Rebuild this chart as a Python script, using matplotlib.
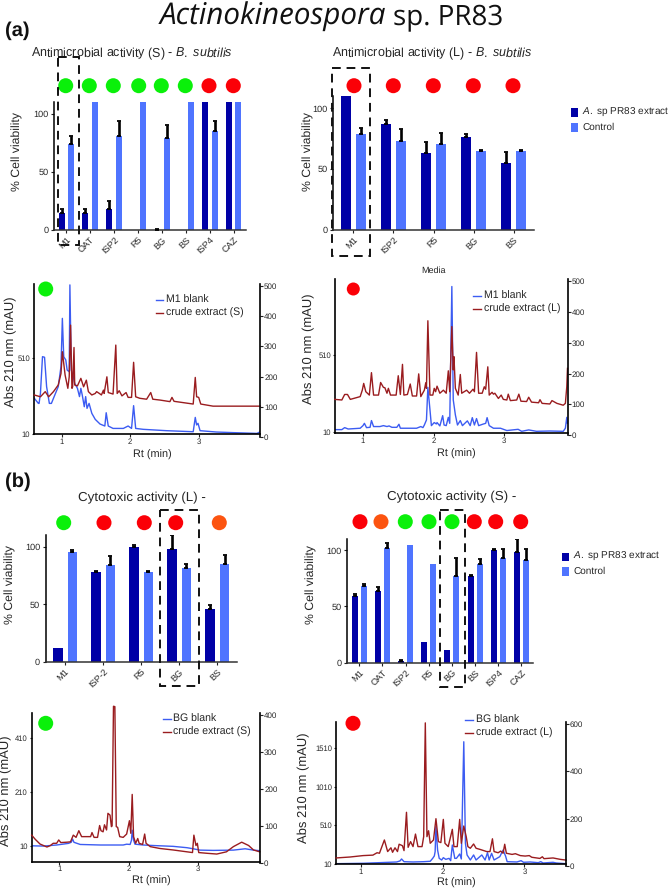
import matplotlib
matplotlib.use("Agg")
import matplotlib.pyplot as plt
from matplotlib.patches import Circle, Rectangle
from matplotlib.lines import Line2D
from matplotlib.transforms import Affine2D

W, H = 671, 889
DARK = "#0000a6"
LIGHT = "#4f74ff"
TRACE_BLUE = "#3c5cf2"
TRACE_RED = "#9a1c1f"
GREEN, RED, ORANGE = "#0af00a", "#fb0007", "#fc5410"
TXT = "#262626"

# bar data, panel (a)
cats_a1 = ["M1", "OAT", "ISP2", "R5", "BG", "BS", "ISP4", "CAZ"]
ext_a1 = [15, 15, 18, 0, 0, 0, 110, 110]
ext_err_a1 = [3, 3, 7, 0, 1, 0, 0, 0]
ctl_a1 = [74, 110, 81, 110, 79, 110, 85, 110]
ctl_err_a1 = [7, 0, 13, 0, 11, 0, 9, 0]
status_a1 = [GREEN, GREEN, GREEN, GREEN, GREEN, GREEN, RED, RED]

cats_a2 = ["M1", "ISP2", "R5", "BG", "BS"]
ext_a2 = [110, 87, 63, 76, 55]
ext_err_a2 = [0, 3, 9, 3, 9]
ctl_a2 = [79, 73, 71, 65, 65]
ctl_err_a2 = [5, 10, 9, 1, 1]
status_a2 = [RED, RED, RED, RED, RED]

# bar data, panel (b)
cats_b1 = ["M1", "ISP-2", "R5", "BG", "BS"]
ext_b1 = [12, 78, 100, 98, 46]
ext_err_b1 = [0, 1, 1, 12, 3]
ctl_b1 = [95, 84, 78, 81, 85]
ctl_err_b1 = [2, 8, 1, 4, 8]
status_b1 = [GREEN, RED, RED, RED, ORANGE]

cats_b2 = ["M1", "OAT", "ISP2", "R5", "BG", "BS", "ISP4", "CAZ"]
ext_b2 = [59, 64, 1.5, 18, 11, 77, 100, 98]
ext_err_b2 = [2, 3, 0.5, 0, 0, 1, 1, 12]
ctl_b2 = [68, 102, 105, 88, 77, 88, 93, 91]
ctl_err_b2 = [2, 4, 0, 0, 16, 4, 8, 10]
status_b2 = [RED, ORANGE, GREEN, GREEN, GREEN, RED, RED, RED]

# chromatograms
a1_blue_rt = [.60, .66, .67, .69, .72, .75, .78, .82, .85, .90, .95, .99, 1.01, 1.03, 1.06, 1.08, 1.11, 1.12, 1.14, 1.17, 1.19, 1.23, 1.26, 1.28, 1.30, 1.33, 1.35, 1.37, 1.40, 1.44, 1.49, 1.56, 1.63, 1.65, 1.68, 1.75, 1.90, 1.97, 2.02, 2.05, 2.08, 2.19, 2.53, 2.92, 2.95, 2.97, 2.99, 3.02, 3.26, 3.51, 3.85, 3.90]
a1_blue = [245, 211, 211, 278, 521, 517, 322, 211, 211, 267, 322, 455, 775, 521, 499, 432, 421, 997, 432, 388, 344, 311, 256, 311, 267, 189, 256, 178, 211, 145, 105, 74, 61, 149, 61, 45, 45, 61, 45, 196, 45, 39, 30, 23, 118, 68, 79, 30, 21, 17, 12, 23]
a1_red_rt = [.60, .69, .76, .81, .88, .95, .99, 1.01, 1.05, 1.09, 1.11, 1.13, 1.15, 1.16, 1.18, 1.19, 1.23, 1.28, 1.32, 1.36, 1.39, 1.44, 1.49, 1.51, 1.55, 1.58, 1.61, 1.62, 1.66, 1.68, 1.75, 1.79, 1.81, 1.84, 1.88, 1.94, 1.97, 2.02, 2.05, 2.08, 2.14, 2.24, 2.30, 2.33, 2.44, 2.58, 2.61, 2.64, 2.92, 2.95, 2.97, 3.00, 3.03, 3.21, 3.51, 3.90]
a1_red = [139, 133, 150, 133, 150, 172, 210, 282, 205, 161, 199, 370, 161, 166, 296, 172, 169, 194, 166, 188, 150, 139, 144, 150, 144, 139, 155, 144, 199, 147, 142, 304, 144, 153, 136, 147, 131, 131, 247, 133, 128, 125, 147, 125, 122, 117, 131, 118, 109, 197, 133, 131, 109, 102, 102, 102]

a2_blue_rt = [.60, .70, .74, .79, .96, 1.00, 1.02, 1.05, 1.10, 1.12, 1.15, 1.24, 1.29, 1.34, 1.37, 1.41, 1.48, 1.51, 1.53, 1.76, 1.82, 1.85, 1.87, 1.89, 1.90, 1.92, 1.95, 1.97, 2.01, 2.04, 2.05, 2.09, 2.13, 2.15, 2.18, 2.21, 2.23, 2.26, 2.28, 2.31, 2.34, 2.38, 2.41, 2.48, 2.52, 2.55, 2.58, 2.61, 2.64, 2.71, 2.74, 2.76, 2.79, 2.85, 2.95, 3.04, 3.20, 3.25, 3.35, 3.46, 3.65, 3.84, 3.87, 3.89, 3.90]
a2_blue = [23, 23, 36, 27, 32, 49, 64, 36, 38, 82, 43, 43, 49, 43, 47, 38, 38, 58, 32, 32, 43, 36, 53, 75, 86, 299, 151, 49, 69, 60, 69, 47, 114, 53, 49, 103, 64, 956, 217, 119, 53, 82, 49, 80, 49, 101, 53, 95, 49, 60, 64, 101, 49, 32, 32, 17, 25, 12, 21, 12, 14, 12, 32, 103, 64]
a2_red_rt = [.60, .70, .74, .78, .82, .96, .99, 1.01, 1.04, 1.09, 1.12, 1.15, 1.22, 1.25, 1.29, 1.31, 1.34, 1.36, 1.39, 1.47, 1.50, 1.53, 1.56, 1.58, 1.63, 1.67, 1.70, 1.76, 1.79, 1.82, 1.87, 1.89, 1.90, 1.92, 1.95, 1.99, 2.01, 2.03, 2.05, 2.09, 2.14, 2.18, 2.21, 2.23, 2.26, 2.28, 2.29, 2.31, 2.35, 2.38, 2.40, 2.47, 2.51, 2.56, 2.58, 2.61, 2.64, 2.69, 2.72, 2.74, 2.77, 2.79, 2.83, 2.85, 2.87, 2.92, 2.96, 2.99, 3.04, 3.06, 3.09, 3.18, 3.21, 3.24, 3.32, 3.35, 3.39, 3.49, 3.51, 3.54, 3.65, 3.68, 3.75, 3.84, 3.87, 3.89, 3.90]
a2_red = [116, 114, 132, 132, 116, 125, 146, 168, 141, 130, 203, 130, 130, 171, 155, 154, 136, 152, 130, 130, 193, 132, 230, 130, 132, 166, 127, 127, 199, 125, 146, 170, 152, 372, 130, 130, 152, 141, 159, 136, 146, 136, 209, 141, 353, 212, 255, 152, 130, 197, 136, 146, 136, 149, 141, 269, 136, 136, 157, 149, 222, 130, 139, 133, 136, 119, 130, 116, 114, 133, 112, 114, 133, 110, 109, 123, 107, 105, 115, 103, 101, 112, 103, 97, 103, 157, 217]

b1_blue_rt = [.60, .77, .96, 1.13, 1.17, 1.19, 1.21, 1.30, 1.59, 1.92, 1.97, 2.02, 2.04, 2.05, 2.07, 2.09, 2.21, 2.36, 2.64, 2.84, 2.93, 3.03, 3.22, 3.51, 3.68, 3.80, 3.89]
b1_blue = [11, 10, 14, 20, 24, 36, 24, 16, 14, 14, 17, 16, 32, 69, 32, 17, 14, 12, 9, 4, 0, -5, -6, -5, 0, -5, -7]
b1_red_rt = [.60, .65, .72, .82, .87, .91, .96, .99, 1.02, 1.11, 1.16, 1.20, 1.24, 1.28, 1.32, 1.39, 1.45, 1.47, 1.50, 1.55, 1.58, 1.60, 1.63, 1.65, 1.68, 1.70, 1.73, 1.75, 1.76, 1.78, 1.80, 1.82, 1.84, 1.87, 1.92, 1.97, 2.01, 2.03, 2.05, 2.07, 2.10, 2.13, 2.15, 2.20, 2.23, 2.25, 2.31, 2.45, 2.64, 2.84, 2.92, 2.94, 2.97, 2.99, 3.01, 3.13, 3.27, 3.41, 3.51, 3.63, 3.73, 3.80, 3.89]
b1_red = [76, 65, 52, 44, 48, 54, 54, 63, 56, 57, 58, 76, 70, 88, 72, 72, 72, 83, 70, 70, 102, 88, 85, 104, 90, 135, 130, 99, 101, 424, 423, 99, 97, 72, 70, 79, 115, 81, 186, 72, 54, 67, 54, 51, 79, 54, 45, 40, 36, 31, 29, 76, 48, 54, 29, 27, 25, 31, 45, 57, 48, 36, 31]

b2_blue_rt = [.70, 1.03, 1.44, 1.48, 1.50, 1.53, 1.64, 1.77, 1.85, 1.88, 1.90, 1.91, 1.92, 1.94, 1.96, 1.99, 2.01, 2.04, 2.08, 2.10, 2.12, 2.15, 2.17, 2.21, 2.23, 2.26, 2.28, 2.30, 2.34, 2.38, 2.41, 2.48, 2.52, 2.55, 2.57, 2.60, 2.63, 2.70, 2.74, 2.77, 2.79, 2.91, 2.96, 2.99, 3.07, 3.17, 3.20, 3.23, 3.35, 3.39, 3.51]
b2_blue = [14, 19, 36, 49, 75, 40, 36, 40, 45, 83, 114, 170, 494, 191, 83, 62, 92, 70, 83, 53, 256, 83, 83, 140, 75, 1595, 278, 127, 62, 127, 62, 127, 62, 157, 62, 148, 62, 105, 191, 114, 40, 36, 53, 32, 36, 27, 40, 23, 32, 23, 14]
b2_red_rt = [.70, .87, 1.03, 1.15, 1.20, 1.23, 1.29, 1.33, 1.37, 1.39, 1.42, 1.45, 1.47, 1.51, 1.53, 1.56, 1.58, 1.61, 1.64, 1.67, 1.70, 1.75, 1.77, 1.79, 1.81, 1.83, 1.85, 1.89, 1.92, 1.95, 1.98, 2.01, 2.03, 2.07, 2.12, 2.14, 2.18, 2.21, 2.23, 2.26, 2.29, 2.31, 2.34, 2.38, 2.41, 2.46, 2.54, 2.58, 2.61, 2.63, 2.68, 2.71, 2.74, 2.76, 2.78, 2.85, 2.89, 2.95, 3.01, 3.06, 3.09, 3.19, 3.22, 3.24, 3.35, 3.44, 3.51]
b2_red = [34, 38, 44, 46, 56, 54, 110, 61, 77, 58, 77, 61, 92, 86, 65, 227, 79, 103, 82, 135, 82, 82, 124, 605, 124, 149, 96, 110, 200, 103, 99, 197, 96, 82, 155, 82, 82, 197, 96, 169, 124, 82, 75, 93, 75, 70, 61, 61, 115, 61, 56, 63, 54, 92, 54, 49, 52, 44, 42, 44, 37, 32, 39, 31, 34, 28, 25]

plt.rcParams["font.family"] = ["Liberation Sans", "DejaVu Sans"]
plt.rcParams["mathtext.fontset"] = "custom"
plt.rcParams["mathtext.it"] = "Liberation Sans:italic"
plt.rcParams["mathtext.rm"] = "Liberation Sans"
plt.rcParams["text.hinting"] = "no_hinting"

fig = plt.figure(figsize=(W / 100, H / 100), dpi=100)
px = Affine2D().scale(1, -1).translate(0, H)


def make_axes(left, top, right, bottom):
    return fig.add_axes([left / W, 1 - bottom / H, (right - left) / W, (bottom - top) / H])


def label(x, y, s, size=7.5, **kw):
    kw.setdefault("ha", "left")
    kw.setdefault("va", "center")
    kw.setdefault("color", TXT)
    fig.text(x / W, 1 - y / H, s, fontsize=size, **kw)


def dot(x, y, color, r=7.5):
    fig.add_artist(Circle((x, y), r, transform=px, color=color, lw=0, zorder=4))


def dashed_box(x0, y0, x1, y1):
    fig.add_artist(Rectangle((x0, y0), x1 - x0, y1 - y0, transform=px, fill=False, ec="#111111",
                             lw=1.4, ls=(0, (4.5, 3)), zorder=5))


def bars(box, cats, ext, ext_err, ctl, ctl_err, width, offset):
    ax = make_axes(*box)
    for i in range(len(cats)):
        ax.bar(i - offset, ext[i], width, color=DARK, zorder=2)
        ax.bar(i + offset, ctl[i], width, color=LIGHT, zorder=2)
        if ext_err[i] > 0:
            ax.errorbar(i - offset, ext[i], yerr=[[0], [ext_err[i]]], color="black", elinewidth=1.9,
                        capsize=1.5, capthick=1.3, zorder=3)
        if ctl_err[i] > 0:
            ax.errorbar(i + offset, ctl[i], yerr=[[0], [ctl_err[i]]], color="black", elinewidth=1.9,
                        capsize=1.5, capthick=1.3, zorder=3)
    ax.set_xlim(-0.51, len(cats) - 0.49)
    ax.set_ylim(0, 110)
    ax.set_yticks([0, 50, 100])
    ax.set_xticks(range(len(cats)))
    ax.set_xticklabels(cats, rotation=45, ha="right", rotation_mode="anchor")
    ax.tick_params(labelsize=6.6, length=2.5, width=0.8, pad=1.5, color="#222222", labelcolor=TXT)
    for s in ["top", "right"]:
        ax.spines[s].set_visible(False)
    ax.spines["left"].set_linewidth(1.1)
    ax.spines["bottom"].set_linewidth(1.1)
    ax.spines["bottom"].set_color("#333333")
    return ax


def chrom(box, right_bottom, xlim, ylim_l, ylim_r, lticks, rticks, blue, red):
    left, top, right, bottom = box
    ax = make_axes(left, top, right, bottom)
    ax2 = make_axes(left, top, right, right_bottom)
    ax2.patch.set_visible(False)
    ax.plot(blue[0], blue[1], color=TRACE_BLUE, lw=1.0, solid_joinstyle="round")
    ax2.plot(red[0], red[1], color=TRACE_RED, lw=1.0, solid_joinstyle="round", clip_on=False)
    ax.set_xlim(*xlim)
    ax2.set_xlim(*xlim)
    ax.set_ylim(*ylim_l)
    ax2.set_ylim(*ylim_r)
    ax.set_xticks([1, 2, 3])
    ax.set_yticks(lticks)
    ax2.set_xticks([])
    ax2.set_yticks(rticks)
    ax2.yaxis.tick_right()
    ax.tick_params(labelsize=5.5, length=1.8, width=0.8, pad=1, color="#222222", labelcolor=TXT)
    ax2.tick_params(labelsize=5.8, length=2, width=0.8, pad=1, color="#222222", labelcolor=TXT)
    for s in ["top", "right"]:
        ax.spines[s].set_visible(False)
    for s in ["top", "left", "bottom"]:
        ax2.spines[s].set_visible(False)
    ax.spines["left"].set_linewidth(1.2)
    ax.spines["bottom"].set_linewidth(1.2)
    ax2.spines["right"].set_linewidth(1.2)


def chrom_legend(x_line, x_text, y1, y2, names):
    for y, col, name in [(y1, TRACE_BLUE, names[0]), (y2, TRACE_RED, names[1])]:
        fig.add_artist(Line2D([x_line, x_line + 7.5], [y, y], transform=px, color=col, lw=1.0))
        label(x_text, y, name, 7.6)


def bar_legend(x_sq, x_text, y1, y2):
    for y, col, name in [(y1, DARK, r"$\mathit{A.}$ sp PR83 extract"), (y2, LIGHT, "Control")]:
        fig.add_artist(Rectangle((x_sq - 3.5, y - 4), 7.5, 8.5, transform=px, color=col, lw=0))
        label(x_text, y, name, 7.2)


# title and panel letters
label(160, 24, "Actinokineospora", 21.3, family="Open Sans", style="italic", color="#111111", va="baseline")
label(393, 24, "sp. PR83", 20, family="Open Sans", color="#111111", va="baseline")
label(5, 31, "(a)", 14.5, weight="bold", color="#111111")
label(5, 482, "(b)", 14.5, weight="bold", color="#111111")

# panel (a) bars
bars((54, 102, 246, 230), cats_a1, ext_a1, ext_err_a1, ctl_a1, ctl_err_a1, 6 / 24, 4.7 / 24)
bars((333, 96, 534, 230), cats_a2, ext_a2, ext_err_a2, ctl_a2, ctl_err_a2, 10 / 40, 7.5 / 40)
label(31, 54, r"Antimicrobial activity (S) - $\mathit{B.\ subtilis}$", 9)
label(332, 54, r"Antimicrobial activity (L) - $\mathit{B.\ subtilis}$", 9)
label(17, 152, "% Cell viability", 8.8, rotation=90, ha="center")
label(308, 152, "% Cell viability", 8.8, rotation=90, ha="center")
for x, c in zip([65.7, 89.3, 113.3, 138.7, 161.3, 185.3, 209, 233.3], status_a1):
    dot(x, 85.7, c)
for x, c in zip([354, 393.3, 433.3, 473.3, 513], status_a2):
    dot(x, 85.7, c)
dashed_box(57.7, 57, 79, 245)
dashed_box(332, 68, 370, 256)
bar_legend(574.3, 582, 112, 127)

# panel (a) chromatograms
chrom((34, 284, 260, 434.3), 437, (0.596, 3.895), (6, 1003), (0, 506), [10, 510], [0, 100, 200, 300, 400, 500],
      (a1_blue_rt, a1_blue), (a1_red_rt, a1_red))
chrom((335, 279.3, 567.7, 433.3), 435, (0.603, 3.903), (-1, 1003), (0, 507), [10, 510], [0, 100, 200, 300, 400, 500],
      (a2_blue_rt, a2_blue), (a2_red_rt, a2_red))
label(10.7, 351.7, "Abs 210 nm (mAU)", 9.4, rotation=90, ha="center")
label(309, 349, "Abs 210 nm (mAU)", 9.4, rotation=90, ha="center")
label(152.7, 455, "Rt (min)", 7.8, ha="center")
label(456, 454, "Rt (min)", 7.8, ha="center")
label(433.7, 270.7, "Media", 6.5, ha="center")
dot(45.7, 289, GREEN)
dot(353.3, 289, RED, 6.5)
chrom_legend(155.7, 166, 300, 313.3, ["M1 blank", "crude extract (S)"])
chrom_legend(473.3, 484.3, 295.7, 309.3, ["M1 blank", "crude extract (L)"])

# panel (b) bars
bars((45.7, 535, 236.7, 662), cats_b1, ext_b1, ext_err_b1, ctl_b1, ctl_err_b1, 9.5 / 38, 7.2 / 38)
bars((347.3, 539, 533.3, 662.7), cats_b2, ext_b2, ext_err_b2, ctl_b2, ctl_err_b2, 6 / 23.2, 4.5 / 23.2)
label(77.7, 498, "Cytotoxic activity (L) -", 9.6)
label(386.7, 496.7, "Cytotoxic activity (S) -", 9.6)
label(10, 585, "% Cell viability", 8.8, rotation=90, ha="center")
label(311.7, 585, "% Cell viability", 8.8, rotation=90, ha="center")
for x, c in zip([63.7, 104, 144.3, 175.7, 219.3], status_b1):
    dot(x, 522.7, c)
for x, c in zip([360, 381, 405.3, 429, 452, 474.3, 495.7, 520.7], status_b2):
    dot(x, 521.7, c)
dashed_box(160, 510, 199, 686)
dashed_box(440, 510, 465.3, 687)
bar_legend(565.3, 573.3, 556.7, 571.3)

# panel (b) chromatograms
chrom((31.7, 713.3, 260, 861.7), 863.3, (0.60, 3.894), (-48, 503), (0, 405), [10, 210, 410], [0, 100, 200, 300, 400],
      (b1_blue_rt, b1_blue), (b1_red_rt, b1_red))
chrom((336, 721.7, 565.7, 864.3), 866, (0.699, 3.505), (6, 1855), (0, 610), [10, 510, 1010, 1510], [0, 200, 400, 600],
      (b2_blue_rt, b2_blue), (b2_red_rt, b2_red))
label(6, 790.8, "Abs 210 nm (mAU)", 9.4, rotation=90, ha="center")
label(304, 788, "Abs 210 nm (mAU)", 9.4, rotation=90, ha="center")
label(151.7, 881, "Rt (min)", 7.8, ha="center")
label(456.7, 883, "Rt (min)", 7.8, ha="center")
dot(45.7, 723.3, GREEN)
dot(353, 723.3, RED)
chrom_legend(163.3, 173.3, 719.3, 732.3, ["BG blank", "crude extract (S)"])
chrom_legend(465.3, 475.7, 720, 732.7, ["BG blank", "crude extract (L)"])

fig.savefig("out.png", dpi=100)
